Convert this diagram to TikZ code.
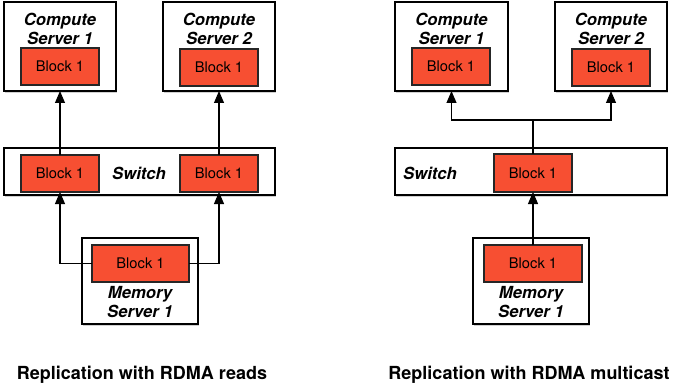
\documentclass[tikz,border=0pt]{standalone}
\usepackage{fontspec}
\setmainfont{TeX Gyre Heros}
\usetikzlibrary{arrows.meta,shadows}
\definecolor{blockred}{RGB}{247,79,50}

\begin{document}
\begin{tikzpicture}[x=0.75pt,y=-0.75pt,
  sized/.style 2 args={minimum width=#1*0.75pt, minimum height=#2*0.75pt},
  hostbox/.style={draw=black, line width=0.8pt, fill=white, inner sep=0pt, outer sep=0pt,
    drop shadow={shadow xshift=0.6pt, shadow yshift=-1.4pt, opacity=0.3, fill=black!60}},
  blockbox/.style={draw=black!85, line width=0.8pt, fill=blockred, inner sep=0pt, outer sep=0pt,
    font=\fontsize{11pt}{13pt}\selectfont},
  hostlabel/.style={font=\fontsize{12.5pt}{14.25pt}\selectfont\bfseries\itshape, align=center, inner sep=0pt},
  caption/.style={font=\fontsize{13.5pt}{16pt}\selectfont\bfseries, inner sep=0pt, anchor=base},
  arr/.style={line width=0.8pt, -{Triangle[length=9pt,width=7.5pt]}},
  wire/.style={line width=0.8pt}
]
\useasboundingbox (0,0) rectangle (679,385);

% ---------- RDMA reads ----------
\node[hostbox, sized={112}{89}] (cL1) at (60,46.5) {};
\node[hostbox, sized={112}{89}] (cL2) at (219,46.5) {};
\node[hostlabel] (tL1) at (60,28.5) {Compute\\Server 1};
\node[hostlabel] (tL2) at (219,28.5) {Compute\\Server 2};
\node[blockbox, sized={78}{37}] (bL1) at (60,66.5) {Block 1};
\node[blockbox, sized={78}{37}] (bL2) at (219,67.5) {Block 1};

\node[hostbox, sized={271}{47}] (swL) at (139.5,171.5) {};
\node[hostlabel] (swtL) at (139,173) {Switch};
\node[blockbox, sized={78}{37}] (sL1) at (60,173.5) {Block 1};
\node[blockbox, sized={78}{37}] (sL2) at (219,173.5) {Block 1};

\node[hostbox, sized={116}{86}] (mLbox) at (140,281) {};
\node[blockbox, sized={97}{37}] (mL) at (140.5,263.5) {Block 1};
\node[hostlabel] (mtL) at (140,302.5) {Memory\\Server 1};

\draw[arr] (sL1.north) -- (cL1.south);
\draw[arr] (sL2.north) -- (cL2.south);
\draw[arr] (mL.west) -| (sL1.south);
\draw[arr] (mL.east) -| (sL2.south);

\node[caption] (capL) at (142,379) {Replication with RDMA reads};

% ---------- RDMA multicast ----------
\node[hostbox, sized={113}{89}] (cR1) at (451.5,46.5) {};
\node[hostbox, sized={112}{89}] (cR2) at (611,46.5) {};
\node[hostlabel] (tR1) at (451.5,28.5) {Compute\\Server 1};
\node[hostlabel] (tR2) at (611,28.5) {Compute\\Server 2};
\node[blockbox, sized={78}{37}] (bR1) at (451,66.5) {Block 1};
\node[blockbox, sized={78}{37}] (bR2) at (611,67.5) {Block 1};

\node[hostbox, sized={272}{47}] (swR) at (531,171.5) {};
\node[hostlabel] (swtR) at (430,173) {Switch};
\node[blockbox, sized={78}{38}] (sR) at (533,173) {Block 1};

\node[hostbox, sized={116}{86}] (mRbox) at (531,281) {};
\node[blockbox, sized={98}{37}] (mR) at (533,263.5) {Block 1};
\node[hostlabel] (mtR) at (531,302.5) {Memory\\Server 1};

\coordinate (fork) at (533,120);
\draw[wire] (sR.north) -- (fork);
\draw[arr] (fork) -| (cR1.south);
\draw[arr] (fork) -| (cR2.south);
\draw[arr] (mR.north) -- (sR.south);

\node[caption] (capR) at (529,379) {Replication with RDMA multicast};
\end{tikzpicture}
\end{document}
